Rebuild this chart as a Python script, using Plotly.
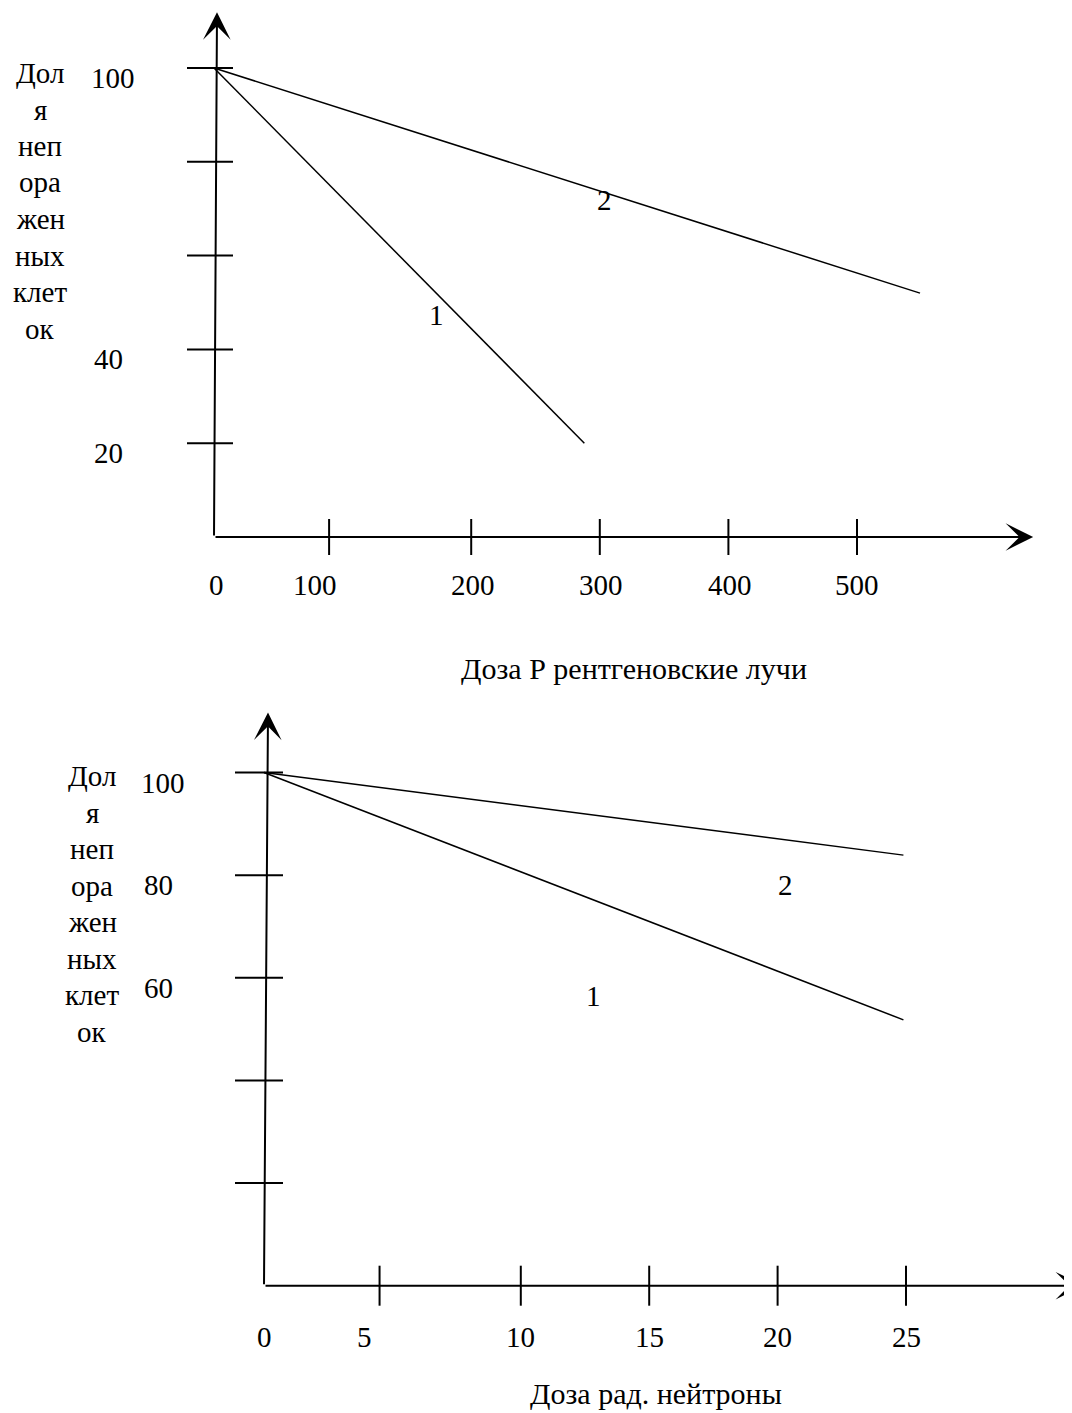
import plotly.graph_objects as go

# ---------------- data: top chart (X-rays) ----------------
xray_dose_1 = [0, 288]
xray_surv_1 = [100, 20]
xray_dose_2 = [0, 549]
xray_surv_2 = [100, 52]
xray_xticks = [89.5, 200, 300, 400, 500]
xray_xlabels = ["0", "100", "200", "300", "400", "500"]
xray_xlabel_pos = [2.3, 78.5, 201.5, 301, 401, 500]
xray_yticks = [100, 80, 60, 40, 20]
xray_ylabels = ["100", "40", "20"]
xray_ylabel_pos = [100, 40, 20]
xray_curve_names = ["1", "2"]
xray_curve_label_x = [173, 304]
xray_curve_label_y = [47.3, 71.9]
xray_axis_end = [637, 111.9]
xray_title = "Доза Р рентгеновские лучи"

# ---------------- data: bottom chart (neutrons) ----------------
neut_dose_1 = [0, 24.9]
neut_surv_1 = [100, 51.8]
neut_dose_2 = [0, 24.9]
neut_surv_2 = [100, 83.9]
neut_xticks = [4.5, 10, 15, 20, 25]
neut_xlabels = ["0", "5", "10", "15", "20", "25"]
neut_xlabel_pos = [0, 3.9, 10, 15, 20, 25]
neut_yticks = [100, 80, 60, 40, 20]
neut_ylabels = ["100", "80", "60"]
neut_ylabel_pos = [100, 80, 60]
neut_curve_names = ["1", "2"]
neut_curve_label_x = [12.85, 20.3]
neut_curve_label_y = [56.4, 78.0]
neut_axis_end = [31.9, 111.7]
neut_title = "Доза рад. нейтроны"

ytitle_lines = ["Дол", "я", "неп", "ора", "жен", "ных", "клет", "ок"]

# ---------------- styles / layout geometry ----------------
OFF = 8                      # default page margin of the html body
W, H = 1072 - OFF, 1413 - OFF
FONT = "Liberation Serif, Times New Roman, serif"
FS = 29
FS_TITLE = 30
BLACK = "black"

# panel geometry in window pixels: origin (ox, oy), px per unit (sx, sy), vertical band
TOP = dict(ox=214, oy=537, sx=1.286, sy=4.69, band=(OFF, 700))
BOT = dict(ox=264, oy=1285.7, sx=25.68, sy=5.132, band=(700, 1413))


def xrange_of(p):
    ox = p["ox"] - OFF
    return [-ox / p["sx"], (W - ox) / p["sx"]]


def yrange_of(p):
    b0, b1 = p["band"]
    return [(p["oy"] - b1) / p["sy"], (p["oy"] - b0) / p["sy"]]


def ydomain_of(p):
    b0, b1 = p["band"]
    return [1 - (b1 - OFF) / H, 1 - (b0 - OFF) / H]


def px(x):
    return (x - OFF) / W


def py(y):
    return 1 - (y - OFF) / H


fig = go.Figure()

for xs, ys, xa, ya in [(xray_dose_1, xray_surv_1, "x", "y"),
                       (xray_dose_2, xray_surv_2, "x", "y"),
                       (neut_dose_1, neut_surv_1, "x2", "y2"),
                       (neut_dose_2, neut_surv_2, "x2", "y2")]:
    fig.add_trace(go.Scatter(x=xs, y=ys, mode="lines", hoverinfo="skip",
                             line=dict(color=BLACK, width=1.5), xaxis=xa, yaxis=ya))

shapes = []
annotations = []


def add_panel(xr, yr, xticks, xlabels, xlabel_pos, yticks, ylabels, ylabel_pos,
              names, lx, ly, axis_end, tilt, ytick_span, xtick_half,
              xlabel_shift, title, title_xy, ytitle_x, ytitle_y0, ytitle_step):
    arrow = dict(xref=xr, yref=yr, axref=xr, ayref=yr, text="", showarrow=True,
                 arrowhead=3, arrowsize=2.3, arrowwidth=2, arrowcolor=BLACK,
                 standoff=0, startstandoff=0)
    annotations.append(dict(x=axis_end[0], y=0, ax=0, ay=0, **arrow))
    annotations.append(dict(x=tilt, y=axis_end[1], ax=0, ay=0, **arrow))
    for v in yticks:
        shapes.append(dict(type="line", xref=xr, yref=yr, xsizemode="pixel",
                           xanchor=0, x0=ytick_span[0], x1=ytick_span[1],
                           y0=v, y1=v, line=dict(color=BLACK, width=2)))
    for v in xticks:
        shapes.append(dict(type="line", xref=xr, yref=yr, ysizemode="pixel",
                           yanchor=0, y0=-xtick_half, y1=xtick_half,
                           x0=v, x1=v, line=dict(color=BLACK, width=2)))
    f = dict(family=FONT, size=FS, color=BLACK)
    for lab, pos in zip(xlabels, xlabel_pos):
        annotations.append(dict(x=pos, y=0, xref=xr, yref=yr, text=lab,
                                showarrow=False, yshift=xlabel_shift,
                                xanchor="center", yanchor="middle", font=f))
    for lab, pos in zip(ylabels, ylabel_pos):
        shift = -101 if len(lab) == 3 else -106
        annotations.append(dict(x=0, y=pos, xref=xr, yref=yr, text=lab,
                                showarrow=False, xshift=shift, yshift=-10,
                                xanchor="center", yanchor="middle", font=f))
    for n, x, y in zip(names, lx, ly):
        annotations.append(dict(x=x, y=y, xref=xr, yref=yr, text=n,
                                showarrow=False, xanchor="center", yanchor="middle",
                                font=f))
    annotations.append(dict(x=px(title_xy[0]), y=py(title_xy[1]), xref="paper",
                            yref="paper", text=title, showarrow=False,
                            xanchor="center", yanchor="middle",
                            font=dict(family=FONT, size=FS_TITLE, color=BLACK)))
    for i, line in enumerate(ytitle_lines):
        annotations.append(dict(x=px(ytitle_x), y=py(ytitle_y0 + i * ytitle_step),
                                xref="paper", yref="paper", text=line, showarrow=False,
                                xanchor="center", yanchor="middle", font=f))


add_panel("x", "y", xray_xticks, xray_xlabels, xray_xlabel_pos, xray_yticks,
          xray_ylabels, xray_ylabel_pos, xray_curve_names, xray_curve_label_x,
          xray_curve_label_y, xray_axis_end, 3 / TOP["sx"], (-27, 19), 18, -48,
          xray_title, (634, 668), 40, 73, 36.5)
add_panel("x2", "y2", neut_xticks, neut_xlabels, neut_xlabel_pos, neut_yticks,
          neut_ylabels, neut_ylabel_pos, neut_curve_names, neut_curve_label_x,
          neut_curve_label_y, neut_axis_end, 4 / BOT["sx"], (-29, 19), 20, -51,
          neut_title, (656, 1393), 92, 776, 36.5)

fig.update_layout(
    width=W, height=H, margin=dict(l=0, r=0, t=0, b=0),
    paper_bgcolor="white", plot_bgcolor="white", showlegend=False,
    xaxis=dict(domain=[0, 1], range=xrange_of(TOP), visible=False,
               anchor="y", fixedrange=True),
    yaxis=dict(domain=ydomain_of(TOP), range=yrange_of(TOP), visible=False,
               anchor="x", fixedrange=True),
    xaxis2=dict(domain=[0, 1], range=xrange_of(BOT), visible=False,
                anchor="y2", fixedrange=True),
    yaxis2=dict(domain=ydomain_of(BOT), range=yrange_of(BOT), visible=False,
                anchor="x2", fixedrange=True),
    shapes=shapes, annotations=annotations,
)

fig.write_html("out.html")
